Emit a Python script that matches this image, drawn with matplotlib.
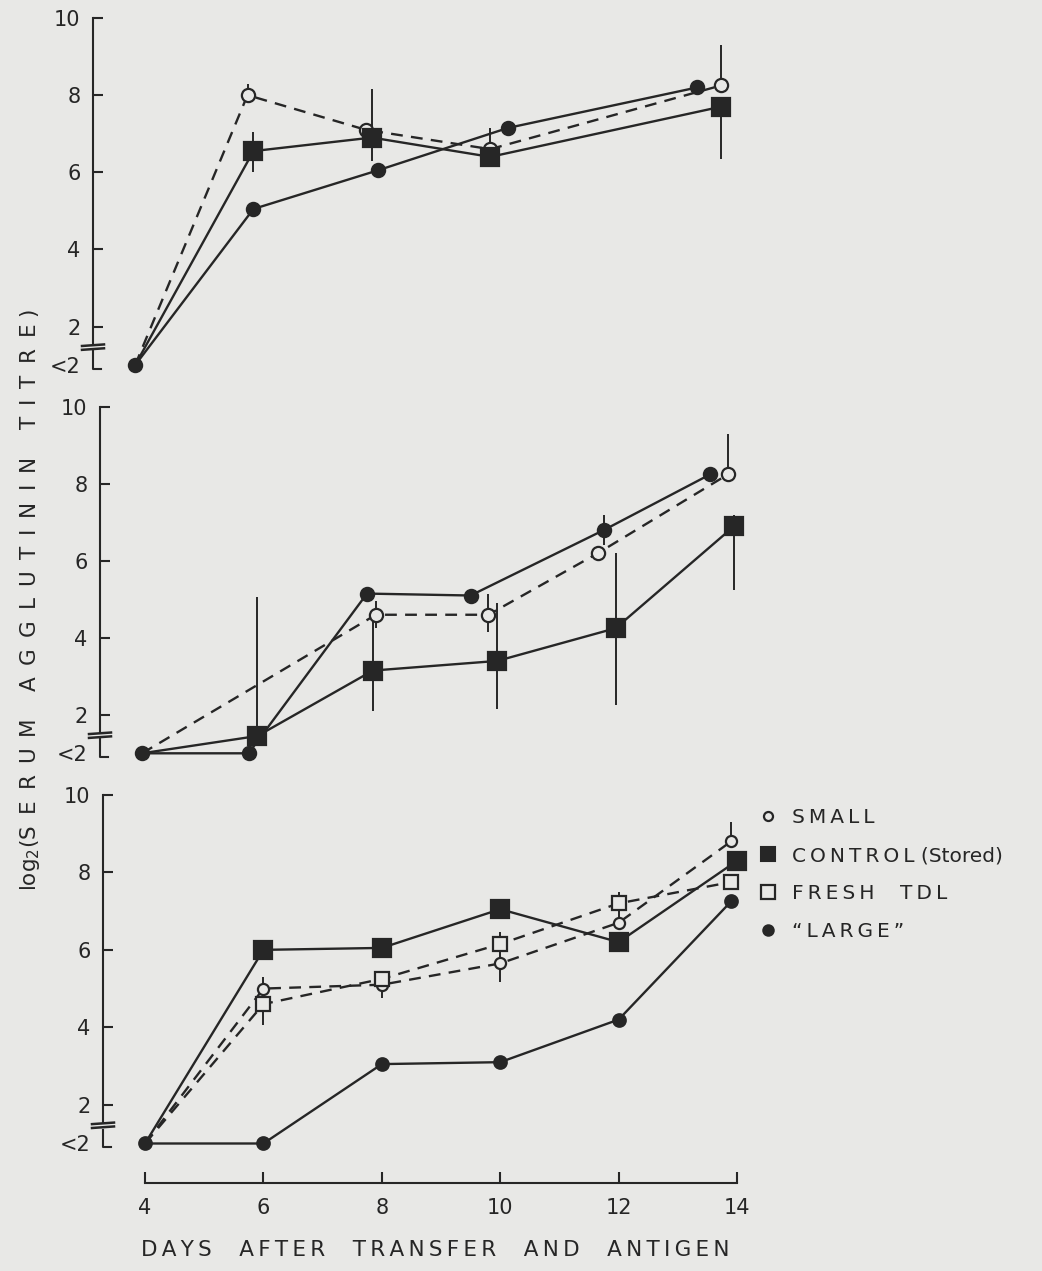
import matplotlib
matplotlib.use("Agg")
import matplotlib.pyplot as plt
import matplotlib.transforms as mtransforms
from matplotlib.lines import Line2D
import numpy as np

# agglutinin titres (<2 plotted as 1.0)
# top panel
top_small_days = [4, 5.9, 7.9, 10.0, 13.9]
top_small = [1.0, 8.0, 7.1, 6.6, 8.25]
top_small_lo = [0, 0, 0, 0, 0]
top_small_hi = [0, 0.3, 0, 0.55, 1.05]

top_ctrl_days = [4, 6.0, 8.0, 10.0, 13.9]
top_ctrl = [1.0, 6.55, 6.9, 6.4, 7.7]
top_ctrl_lo = [0, 0.55, 0.6, 0, 1.35]
top_ctrl_hi = [0, 0.5, 1.25, 0, 0]

top_large_days = [4, 6.0, 8.1, 10.3, 13.5]
top_large = [1.0, 5.05, 6.05, 7.15, 8.2]

# middle panel
mid_small_days = [4, 7.95, 9.85, 11.7, 13.9]
mid_small = [1.0, 4.6, 4.6, 6.2, 8.25]
mid_small_lo = [0, 0.35, 0.45, 0, 0]
mid_small_hi = [0, 0.35, 0.55, 0, 1.05]

mid_ctrl_days = [4, 5.95, 7.9, 10.0, 12.0, 14.0]
mid_ctrl = [1.0, 1.45, 3.15, 3.4, 4.25, 6.9]
mid_ctrl_lo = [0, 0, 1.05, 1.25, 2.0, 1.65]
mid_ctrl_hi = [0, 3.6, 1.4, 1.5, 1.95, 0.3]

mid_large_days = [4, 5.8, 7.8, 9.55, 11.8, 13.6]
mid_large = [1.0, 1.0, 5.15, 5.1, 6.8, 8.25]
mid_large_lo = [0, 0, 0, 0, 0.4, 0]
mid_large_hi = [0, 0, 0, 0, 0.4, 0]

# bottom panel
bot_small_days = [4, 6, 8, 10, 12, 13.9]
bot_small = [1.0, 5.0, 5.1, 5.65, 6.7, 8.8]
bot_small_lo = [0, 0.3, 0.35, 0.47, 0, 0]
bot_small_hi = [0, 0.3, 0.35, 0.7, 0, 0.5]

bot_fresh_days = [4, 6, 8, 10, 12, 13.9]
bot_fresh = [1.0, 4.6, 5.25, 6.15, 7.2, 7.75]
bot_fresh_lo = [0, 0.55, 0, 0, 0.7, 0]
bot_fresh_hi = [0, 0.3, 0.2, 0.3, 0.3, 0]

bot_ctrl_days = [4, 6, 8, 10, 12, 14]
bot_ctrl = [1.0, 6.0, 6.05, 7.05, 6.2, 8.3]

bot_large_days = [4, 6, 8, 10, 12, 13.9]
bot_large = [1.0, 1.0, 3.05, 3.1, 4.2, 7.25]

day_ticks = [4, 6, 8, 10, 12, 14]
titre_ticks = [1.0, 2, 4, 6, 8, 10]
titre_labels = ["<2", "2", "4", "6", "8", "10"]
legend_labels = ["SMALL", "CONTROL (Stored)", "FRESH    TDL", "\u201cLARGE\u201d"]

BG = "#e8e8e6"
INK = "#262626"
W, H = 1042, 1271
XMIN, XMAX, PXDAY = 3.29, 14.3, 59.2

plt.rcParams["font.family"] = ["DejaVu Sans"]


def spaced(s, sep="\u2009"):
    # letter-space upper case words only, the way the lettering was done
    return " ".join(sep.join(w) if w.upper() == w else w for w in s.split(" "))


fig = plt.figure(figsize=(W / 100, H / 100), dpi=100, facecolor=BG)


def panel(left, top, bottom, ylo):
    width = (XMAX - XMIN) * PXDAY
    ax = fig.add_axes([left / W, 1 - bottom / H, width / W, (bottom - top) / H])
    ax.set_facecolor("none")
    ax.set_xlim(XMIN, XMAX)
    ax.set_ylim(ylo, 10.05)
    for s in ["top", "right"]:
        ax.spines[s].set_visible(False)
    ax.spines["left"].set_bounds(1.56, 10)
    ax.spines["left"].set_linewidth(1.5)
    ax.spines["left"].set_color(INK)
    ax.set_yticks(titre_ticks)
    ax.set_yticklabels(titre_labels)
    ax.tick_params(axis="y", direction="in", length=7, width=1.5, color=INK,
                   labelsize=15, pad=9, labelcolor=INK)
    ax.yaxis.get_major_ticks()[0].tick1line.set_visible(False)
    # axis break and foot below it
    tr = mtransforms.blended_transform_factory(ax.transAxes, ax.transData)
    dx = 1 / width
    for yb in (1.42, 1.52):
        ax.plot([-11 * dx, 11 * dx], [yb - 0.02, yb + 0.02], color=INK, lw=1.8,
                transform=tr, clip_on=False)
    ax.plot([0, 0, 8 * dx], [1.36, 0.9, 0.9], color=INK, lw=1.5,
            transform=tr, clip_on=False)
    return ax


def series(ax, days, vals, marker, filled, dashed, ms, lo=None, hi=None, skip_first=True):
    days = np.array(days)
    vals = np.array(vals)
    if lo is not None:
        lo = np.array(lo)
        hi = np.array(hi)
        m = (lo > 0) | (hi > 0)
        ax.vlines(days[m], vals[m] - lo[m], vals[m] + hi[m], color=INK, lw=1.4, zorder=1)
    ls = (0, (5, 3.5)) if dashed else "-"
    ax.plot(days, vals, ls=ls, color=INK, lw=1.7, zorder=2)
    ax.plot(days, vals, ls="none", marker=marker, ms=ms, mew=1.6, mec=INK,
            mfc=INK if filled else BG, zorder=3,
            markevery=slice(1, None) if skip_first else None)


ax1 = panel(93, 16, 373, 0.8)
ax2 = panel(100, 405, 761, 0.8)
ax3 = panel(103, 793, 1183, -0.02)

for ax in (ax1, ax2):
    ax.spines["bottom"].set_visible(False)
    ax.set_xticks([])

# top
series(ax1, top_small_days, top_small, "o", False, True, 9.5, top_small_lo, top_small_hi)
series(ax1, top_ctrl_days, top_ctrl, "s", True, False, 12.5, top_ctrl_lo, top_ctrl_hi)
series(ax1, top_large_days, top_large, "o", True, False, 9.5, skip_first=False)

# middle
series(ax2, mid_small_days, mid_small, "o", False, True, 9.5, mid_small_lo, mid_small_hi)
series(ax2, mid_ctrl_days, mid_ctrl, "s", True, False, 12.5, mid_ctrl_lo, mid_ctrl_hi)
series(ax2, mid_large_days, mid_large, "o", True, False, 9.5, mid_large_lo, mid_large_hi,
       skip_first=False)

# bottom
series(ax3, bot_small_days, bot_small, "o", False, True, 8, bot_small_lo, bot_small_hi)
series(ax3, bot_fresh_days, bot_fresh, "s", False, True, 10.5, bot_fresh_lo, bot_fresh_hi)
series(ax3, bot_ctrl_days, bot_ctrl, "s", True, False, 12.5)
series(ax3, bot_large_days, bot_large, "o", True, False, 9, skip_first=False)

ax3.spines["bottom"].set_bounds(4, 14)
ax3.spines["bottom"].set_linewidth(1.5)
ax3.spines["bottom"].set_color(INK)
ax3.set_xticks(day_ticks)
ax3.set_xticklabels([str(d) for d in day_ticks])
ax3.tick_params(axis="x", direction="in", length=8, width=1.5, color=INK,
                labelsize=15, pad=11, labelcolor=INK)

handles = [
    Line2D([], [], ls="none", marker="o", ms=6.5, mew=1.6, mec=INK, mfc=BG),
    Line2D([], [], ls="none", marker="s", ms=10, mew=1.5, mec=INK, mfc=INK),
    Line2D([], [], ls="none", marker="s", ms=9.5, mew=1.6, mec=INK, mfc=BG),
    Line2D([], [], ls="none", marker="o", ms=7.5, mew=1.5, mec=INK, mfc=INK),
]
ax3.legend(handles, [spaced(t) for t in legend_labels], loc="upper left",
           bbox_to_anchor=(760 / W, 1 - 808 / H), bbox_transform=fig.transFigure,
           frameon=False, handlelength=0.8, handletextpad=0.8, labelspacing=0.95,
           fontsize=14.5, labelcolor=INK, borderaxespad=0, borderpad=0)

fig.text(30 / W, 1 - 600 / H,
         "log$_2$(" + spaced("SERUM", " \u2009") + "    " + spaced("AGGLUTININ", " \u2009")
         + "    " + spaced("TITRE", " \u2009") + " )",
         rotation=90, ha="center", va="center", fontsize=15.5, color=INK)
fig.text(435 / W, 1 - 1250 / H,
         "    ".join(spaced(w) for w in ["DAYS", "AFTER", "TRANSFER", "AND", "ANTIGEN"]),
         ha="center", va="center", fontsize=15.5, color=INK)

fig.savefig("out.png", dpi=100, facecolor=BG)
